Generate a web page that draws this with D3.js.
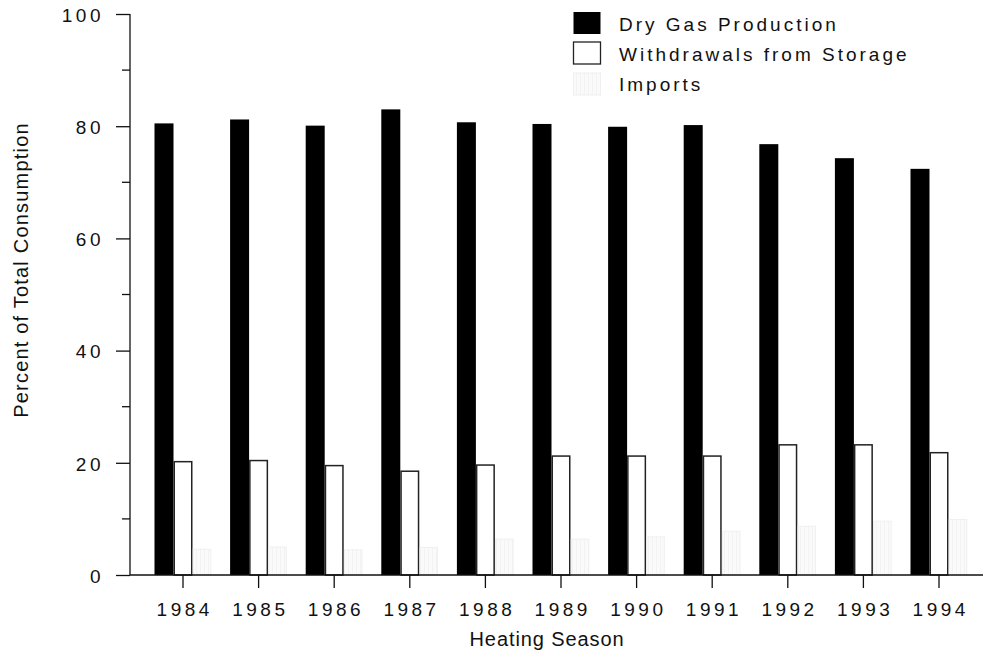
<!DOCTYPE html>
<html>
<head>
<meta charset="utf-8">
<script src="https://cdn.jsdelivr.net/npm/d3@7"></script>
<style>
  html, body { margin: 0; padding: 0; background: #fff; }
  text { font-family: "Liberation Sans", Arial, sans-serif; fill: #111; }
</style>
</head>
<body>
<svg id="chart" width="983" height="656"></svg>
<script>
const years = ["1984","1985","1986","1987","1988","1989","1990","1991","1992","1993","1994"];
const seriesNames = ["Dry Gas Production", "Withdrawals from Storage", "Imports"];
const dryGas = [80.5, 81.2, 80.1, 83.0, 80.7, 80.4, 79.9, 80.2, 76.8, 74.3, 72.4];
const withdrawals = [20.2, 20.4, 19.5, 18.5, 19.6, 21.2, 21.2, 21.2, 23.2, 23.2, 21.8];
const imports = [4.6, 5.0, 4.5, 4.9, 6.4, 6.4, 6.8, 7.8, 8.7, 9.6, 9.9];
const yTicks = [0, 20, 40, 60, 80, 100];
const yMinorTicks = [10, 30, 50, 70, 90];

const seriesValues = [dryGas, withdrawals, imports];
const styles = [
  { fill: "#000000", stroke: "#000000", sw: 0 },
  { fill: "#ffffff", stroke: "#222222", sw: 1.5 },
  { fill: "url(#imp)", stroke: "#f0f0f0", sw: 1 }
];

const svg = d3.select("#chart");
const defs = svg.append("defs");
const pat = defs.append("pattern").attr("id", "imp").attr("patternUnits", "userSpaceOnUse")
  .attr("width", 4).attr("height", 4);
pat.append("rect").attr("width", 4).attr("height", 4).attr("fill", "#fafafa");
pat.append("rect").attr("width", 1).attr("height", 4).attr("fill", "#f3f3f3");

const x0 = 130, yBase = 575, yTop = 14;
const x = d3.scaleBand().domain(years).range([145.2, 976.8]);
const xs = d3.scaleBand().domain(seriesNames).range([9.3, x.bandwidth() - 9.3]);
const y = d3.scaleLinear().domain([0, 100]).range([yBase, yTop]);

// bars
seriesNames.forEach((s, si) => {
  svg.append("g").selectAll("rect").data(years).join("rect")
    .attr("x", d => x(d) + xs(s) + (styles[si].sw ? 0.75 : 0))
    .attr("width", xs.bandwidth() - (styles[si].sw ? 1.5 : 0))
    .attr("y", (d, i) => y(seriesValues[si][i]))
    .attr("height", (d, i) => yBase - y(seriesValues[si][i]))
    .attr("fill", styles[si].fill)
    .attr("stroke", styles[si].sw ? styles[si].stroke : "none")
    .attr("stroke-width", styles[si].sw);
});

// y axis
const yAxis = svg.append("g").attr("transform", `translate(${x0},0)`);
yAxis.call(d3.axisLeft(y).tickValues(yTicks).tickSize(14).tickPadding(12).tickFormat(d3.format("d")));
yAxis.select(".domain").remove();
yAxis.append("line").attr("x1", 0).attr("x2", 0).attr("y1", yTop).attr("y2", yBase)
  .attr("stroke", "#111").attr("stroke-width", 1.3);
yAxis.selectAll(".minor").data(yMinorTicks).join("line").attr("class", "minor")
  .attr("x1", -8).attr("x2", 0).attr("y1", d => y(d)).attr("y2", d => y(d))
  .attr("stroke", "#111").attr("stroke-width", 1.3);
yAxis.selectAll(".tick line").attr("stroke", "#111").attr("stroke-width", 1.3);
yAxis.selectAll(".tick text").attr("font-size", 19).attr("letter-spacing", "3.5px")
  .attr("font-family", "Liberation Sans, Arial, sans-serif").attr("fill", "#111")
  .attr("dy", "0.38em");

// x axis
const xAxis = svg.append("g").attr("transform", `translate(0,${yBase})`);
xAxis.call(d3.axisBottom(x).tickSize(13).tickPadding(15));
xAxis.select(".domain").remove();
xAxis.append("line").attr("x1", x0).attr("x2", 983).attr("y1", 0).attr("y2", 0)
  .attr("stroke", "#111").attr("stroke-width", 1.3);
xAxis.selectAll(".tick line").attr("stroke", "#111").attr("stroke-width", 1.3);
xAxis.selectAll(".tick text").attr("font-size", 19).attr("letter-spacing", "3.5px")
  .attr("font-family", "Liberation Sans, Arial, sans-serif").attr("fill", "#111")
  .attr("dx", "1.75px");

// axis titles
svg.append("text").attr("x", 547).attr("y", 646).attr("text-anchor", "middle")
  .attr("font-size", 20).attr("letter-spacing", "0.9px").text("Heating Season");
svg.append("text").attr("transform", "translate(28,270) rotate(-90)").attr("text-anchor", "middle")
  .attr("font-size", 20).attr("letter-spacing", "1.2px").text("Percent of Total Consumption");

// legend
const legend = svg.append("g");
const legY = [12, 42, 73];
const legBase = [31, 61, 91];
seriesNames.forEach((s, i) => {
  legend.append("rect").attr("x", 573.5).attr("y", legY[i]).attr("width", 27).attr("height", 22)
    .attr("fill", styles[i].fill)
    .attr("stroke", i === 0 ? "none" : (i === 1 ? "#222" : "#f0f0f0"))
    .attr("stroke-width", i === 1 ? 1.3 : 1);
  legend.append("text").attr("x", 619).attr("y", legBase[i]).attr("font-size", 19)
    .attr("letter-spacing", "3px").text(s);
});
</script>
</body>
</html>
